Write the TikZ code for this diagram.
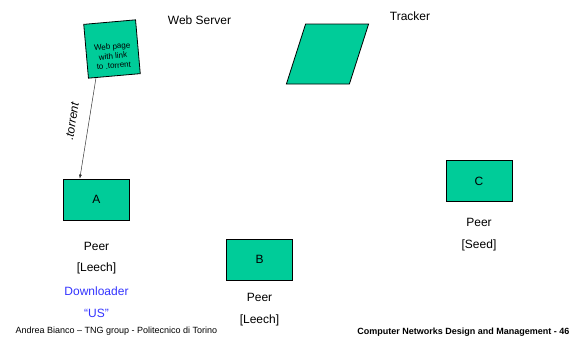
\documentclass[tikz,border=0pt]{standalone}
\usepackage{fontspec}
\setmainfont{Liberation Sans}
\usepackage{tikz}
\usetikzlibrary{positioning, shapes.geometric, shapes.misc, arrows.meta, calc}
\definecolor{peergreen}{RGB}{0,204,153}
\definecolor{linkblue}{RGB}{51,51,255}

\begin{document}
\begin{tikzpicture}[
    x=1pt, y=-1pt,
    every node/.style={font=\fontsize{12}{14}\selectfont},
    peer/.style={draw, line width=0.8pt, fill=peergreen, minimum width=66pt, minimum height=41pt, inner sep=0pt},
    page/.style={chamfered rectangle, chamfered rectangle corners=north west,
        chamfered rectangle xsep=6pt, chamfered rectangle ysep=6pt,
        draw, line width=0.8pt, fill=peergreen, minimum width=52pt, minimum height=54pt, inner sep=0pt, rotate=5},
    tracker/.style={rectangle, xslant=0.32, draw, line width=0.8pt, fill=peergreen,
        minimum width=63pt, minimum height=60pt, inner sep=0pt},
    link/.style={draw=black!80, line width=0.5pt, -{Latex[length=4pt, width=3pt]}},
    footer/.style={font=\fontsize{9}{11}\selectfont}
]
    \useasboundingbox (0,0) rectangle (587,341);

    % web server with the page holding the link
    \node (server) at (199.5,20) {Web Server};
    \node[page] (page) at (112,49) {};
    \node[rotate=5, align=center, font=\fontsize{8}{9.5}\selectfont] (pagetext) at (113,56) {Web page\\with link\\to .torrent};

    % tracker
    \node[tracker] (tracker) at (327.5,54) {};
    \node (trackerlabel) at (410,16) {Tracker};

    % peers
    \node[peer] (A) at (96.5,199.5) {A};
    \node[peer] (B) at (259.5,259.5) {B};
    \node[peer] (C) at (479,181) {C};

    \node (peerA) at (96.5,246) {Peer};
    \node (leechA) at (96.5,268) {[Leech]};
    \node[text=linkblue] (downA) at (96.5,291) {Downloader};
    \node[text=linkblue] (usA) at (96.5,313) {“US”};

    \node (peerB) at (259.5,297) {Peer};
    \node (leechB) at (259.5,320) {[Leech]};

    \node (peerC) at (479,222) {Peer};
    \node (seedC) at (479,245) {[Seed]};

    % download of the .torrent file
    \draw[link] ($(page.south west)!0.15!(page.south east)$) -- ($(A.north west)!0.25!(A.north east)$)
        node[pos=0.46, sloped, above=9pt] {\itshape .torrent};

    % footer
    \node[footer, anchor=west] (author) at (12,331) {Andrea Bianco – TNG group - Politecnico di Torino};
    \node[footer, anchor=east, font=\fontsize{9}{11}\selectfont\bfseries] (course) at (573,332) {Computer Networks Design and Management - 46};
\end{tikzpicture}
\end{document}
